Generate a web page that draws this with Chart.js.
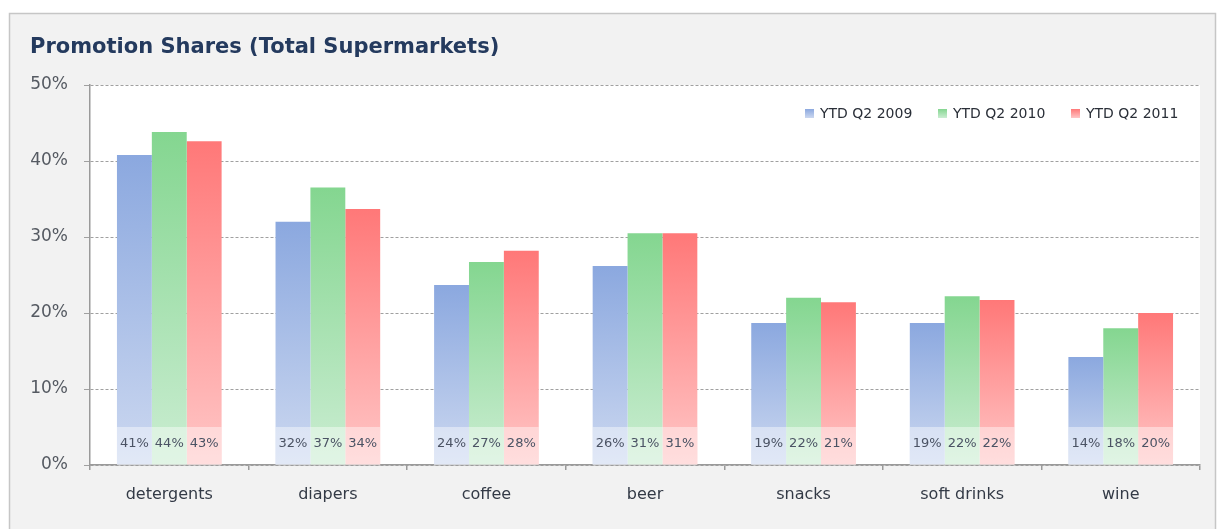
<!DOCTYPE html>
<html>
<head>
<meta charset="utf-8">
<title>Promotion Shares</title>
<script src="https://cdn.jsdelivr.net/npm/chart.js@4.4.1/dist/chart.umd.min.js"></script>
<style>
  html, body { margin: 0; padding: 0; background: #fff; }
  canvas { display: block; }
</style>
</head>
<body>
<canvas id="promoChart" width="1219" height="529"></canvas>
<script>
// categories and promotion shares (%) per period
const categories = ['detergents', 'diapers', 'coffee', 'beer', 'snacks', 'soft drinks', 'wine'];
const seriesNames = ['YTD Q2 2009', 'YTD Q2 2010', 'YTD Q2 2011'];
const share2009 = [40.8, 32.0, 23.7, 26.2, 18.7, 18.7, 14.2];
const share2010 = [43.8, 36.5, 26.7, 30.5, 22.0, 22.2, 18.0];
const share2011 = [42.6, 33.7, 28.2, 30.5, 21.4, 21.7, 20.0];
const yTicks = [0, 10, 20, 30, 40, 50];

// top / bottom colours of each bar gradient
const fills = [
    ['#8ba8df', '#ccd8f0'],
    ['#84d690', '#cbedd2'],
    ['#ff7878', '#ffc6c6']
];

const FONT = "'DejaVu Sans', Verdana, sans-serif";

function barFill(top, bottom) {
    return ctx => {
        const chart = ctx.chart;
        if (!chart.chartArea || ctx.type !== 'data') return top;
        const y = chart.scales.y;
        const g = chart.ctx.createLinearGradient(0, y.getPixelForValue(ctx.raw), 0, y.getPixelForValue(0));
        g.addColorStop(0, top);
        g.addColorStop(1, bottom);
        return g;
    };
}

// grey panel, white plot area and the title
const panelPlugin = {
    id: 'panel',
    beforeDraw(chart) {
        const { ctx, chartArea } = chart;
        ctx.save();
        ctx.fillStyle = '#ffffff';
        ctx.fillRect(0, 0, chart.width, chart.height);
        ctx.fillStyle = '#f2f2f2';
        ctx.fillRect(9, 13, 1207, chart.height);
        ctx.strokeStyle = '#c6c6c6';
        ctx.lineWidth = 1.5;
        ctx.strokeRect(9.5, 13.5, 1206, chart.height + 10);
        ctx.fillStyle = '#ffffff';
        ctx.fillRect(chartArea.left, chartArea.top, chartArea.right - chartArea.left, chartArea.bottom - chartArea.top);

        ctx.fillStyle = '#243a5e';
        ctx.font = 'bold 21px ' + FONT;
        ctx.textBaseline = 'alphabetic';
        ctx.textAlign = 'left';
        ctx.fillText('Promotion Shares (Total Supermarkets)', 30, 53);
        ctx.restore();
    }
};

// whitish strip at the foot of each bar with its value, plus the legend
const labelPlugin = {
    id: 'barLabels',
    afterDatasetsDraw(chart) {
        const { ctx } = chart;
        const y = chart.scales.y;
        const bandTop = y.getPixelForValue(5);
        const base = y.getPixelForValue(0);
        const textY = y.getPixelForValue(2.8);
        ctx.save();
        ctx.font = '13px ' + FONT;
        ctx.textAlign = 'center';
        ctx.textBaseline = 'middle';
        chart.data.datasets.forEach((ds, i) => {
            chart.getDatasetMeta(i).data.forEach((bar, j) => {
                const w = bar.width;
                ctx.fillStyle = 'rgba(255,255,255,0.42)';
                ctx.fillRect(bar.x - w / 2, bandTop, w, base - bandTop);
                ctx.fillStyle = '#4b5364';
                ctx.fillText(Math.round(ds.data[j]) + '%', bar.x, textY);
            });
        });

        // legend
        const legendX = [805, 938, 1071];
        ctx.font = '14px ' + FONT;
        ctx.textAlign = 'left';
        seriesNames.forEach((name, i) => {
            const g = ctx.createLinearGradient(0, 109, 0, 118);
            g.addColorStop(0, fills[i][0]);
            g.addColorStop(1, fills[i][1]);
            ctx.fillStyle = g;
            ctx.fillRect(legendX[i], 109, 9, 9);
            ctx.fillStyle = '#2a2f38';
            ctx.fillText(name, legendX[i] + 15, 114);
        });
        ctx.restore();
    }
};

new Chart(document.getElementById('promoChart'), {
    type: 'bar',
    data: {
        labels: categories,
        datasets: [share2009, share2010, share2011].map((values, i) => ({
            label: seriesNames[i],
            data: values,
            backgroundColor: barFill(fills[i][0], fills[i][1]),
            borderWidth: 0,
            categoryPercentage: 0.66,
            barPercentage: 1
        }))
    },
    options: {
        responsive: false,
        animation: false,
        events: [],
        layout: { padding: { left: 0, right: 19, top: 85, bottom: 0 } },
        plugins: {
            legend: { display: false },
            title: { display: false },
            tooltip: { enabled: false }
        },
        scales: {
            x: {
                afterFit(scale) { scale.height = 64; },
                grid: { drawOnChartArea: false, offset: true, tickLength: 5, color: '#9a9a9a', lineWidth: 1.5 },
                border: { display: true, color: '#9a9a9a', width: 1.5 },
                ticks: { color: '#333a46', font: { family: FONT, size: 16 }, padding: 15 }
            },
            y: {
                min: 0,
                max: 50,
                afterFit(scale) { scale.width = 90; },
                afterBuildTicks(scale) { scale.ticks = yTicks.map(v => ({ value: v })); },
                grid: { color: '#a0a0a0', tickLength: 6, lineWidth: 1 },
                border: { display: true, color: '#9a9a9a', width: 1.5, dash: [3, 2] },
                ticks: {
                    color: '#555a62',
                    font: { family: FONT, size: 17 },
                    padding: 16,
                    callback: v => v + '%'
                }
            }
        }
    },
    plugins: [panelPlugin, labelPlugin]
});
</script>
</body>
</html>
